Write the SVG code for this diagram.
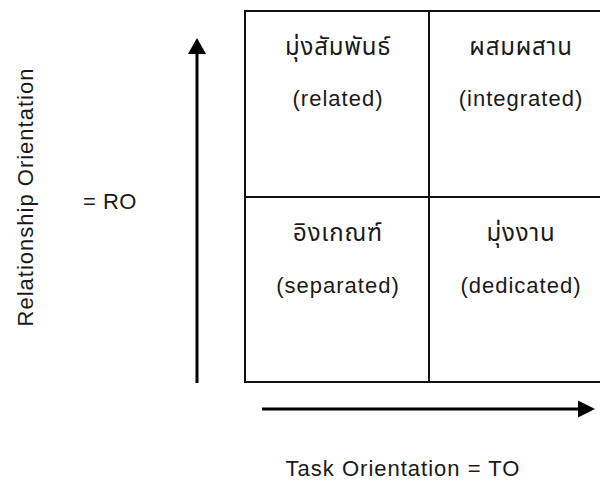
<svg xmlns="http://www.w3.org/2000/svg" width="600" height="481" viewBox="0 0 600 481">
<style>
  .t { font-family: "Liberation Sans", Arial, "Noto Sans Thai", "Noto Sans", sans-serif; font-size: 22px; letter-spacing: 1px; fill: #1a1a1a; }
  .th { font-size: 24px; letter-spacing: 0.8px; }
  .m { text-anchor: middle; }
  .ln { stroke: #111; stroke-width: 2; fill: none; }
</style>
<rect width="600" height="481" fill="#fff"/>
<g id="grid">
  <rect class="ln" x="245" y="11" width="368" height="371"/>
  <line class="ln" x1="429" y1="11" x2="429" y2="382"/>
  <line class="ln" x1="245" y1="197" x2="613" y2="197"/>
</g>
<g id="related">
  <text class="t th m" x="338" y="55">มุ่งสัมพันธ์</text>
  <text class="t m" x="338" y="106">(related)</text>
</g>
<g id="integrated">
  <text class="t th m" x="521" y="55">ผสมผสาน</text>
  <text class="t m" x="521" y="106">(integrated)</text>
</g>
<g id="separated">
  <text class="t th m" x="338" y="241">อิงเกณฑ์</text>
  <text class="t m" x="338" y="293">(separated)</text>
</g>
<g id="dedicated">
  <text class="t th m" x="521" y="241">มุ่งงาน</text>
  <text class="t m" x="521" y="293">(dedicated)</text>
</g>
<g id="connectors">
  <line x1="197" y1="383" x2="197" y2="54" stroke="#000" stroke-width="3"/>
  <path d="M197,38 L206,54 L188,54 Z" fill="#000"/>
  <line x1="262" y1="409" x2="579" y2="409" stroke="#000" stroke-width="3"/>
  <path d="M595,409 L578,400.5 L578,417.5 Z" fill="#000"/>
</g>
<g id="labels">
  <text class="t m" transform="translate(33,197) rotate(-90)">Relationship Orientation</text>
  <text class="t" x="83" y="209" style="letter-spacing:0.5px">= RO</text>
  <text class="t m" x="403" y="476">Task Orientation = TO</text>
</g>
</svg>
